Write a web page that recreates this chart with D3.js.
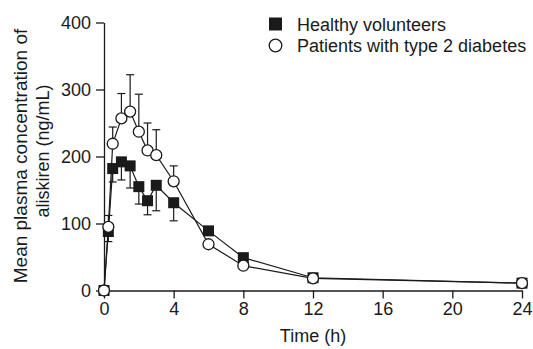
<!DOCTYPE html>
<html><head><meta charset="utf-8">
<script src="https://cdn.jsdelivr.net/npm/d3@7"></script>
<style>
body{margin:0;background:#fff;}
svg{display:block;font-family:"Liberation Sans",Arial,Helvetica,sans-serif;}
</style></head>
<body><svg id="c" width="533" height="349"></svg>
<script>
const times = [0, 0.25, 0.5, 1, 1.5, 2, 2.5, 3, 4, 6, 8, 12, 24];
const healthy = [0, 88, 182, 192, 186, 155, 134, 157, 131, 89, 49, 19, 11];
const healthyErr = [0, 15, 20, 27, 33, 26, 21, 38, 27, 0, 0, 0, 0];
const diabetes = [0, 95, 219, 257, 267, 237, 209, 202, 163, 69, 37, 18, 11];
const diabetesErr = [0, 17, 25, 37, 55, 56, 41, 38, 23, 0, 0, 0, 0];
const xTicks = [0, 4, 8, 12, 16, 20, 24];
const yTicks = [0, 100, 200, 300, 400];
const seriesNames = ["Healthy volunteers", "Patients with type 2 diabetes"];
const yTitle = ["Mean plasma concentration of", "aliskiren (ng/mL)"];
const xTitle = "Time (h)";

const svg = d3.select("#c");
const ink = "#1a1a1a";
const x = d3.scaleLinear().domain([0, 24]).range([104, 522]);
const y = d3.scaleLinear().domain([0, 400]).range([290.5, 22.5]);

const gx = svg.append("g").attr("transform", `translate(0,${y(0)})`)
  .call(d3.axisBottom(x).tickValues(xTicks).tickSize(8).tickSizeOuter(0).tickPadding(4));
const gy = svg.append("g").attr("transform", `translate(${x(0)},0)`)
  .call(d3.axisLeft(y).tickValues(yTicks).tickSize(8).tickSizeOuter(0).tickPadding(5));
[gx, gy].forEach(g => {
  g.selectAll("path,line").attr("stroke", ink).attr("stroke-width", 1.3);
  g.selectAll("text").attr("fill", ink).attr("font-size", 18).attr("font-family", "Liberation Sans, Arial, sans-serif");
});

svg.append("text").attr("x", (x(0) + x(24)) / 2).attr("y", 342).attr("text-anchor", "middle")
  .attr("font-size", 18).attr("fill", ink).text(xTitle);
const yTitleCenters = [156, 151];
const yTitleSizes = [19, 18];
yTitle.forEach((t, i) => {
  svg.append("text").attr("transform", `translate(${27 + i * 22},${yTitleCenters[i]}) rotate(-90)`)
    .attr("text-anchor", "middle").attr("font-size", yTitleSizes[i]).attr("fill", ink).text(t);
});

const hData = times.map((t, i) => ({t, v: healthy[i], e: healthyErr[i]}));
const dData = times.map((t, i) => ({t, v: diabetes[i], e: diabetesErr[i]}));
const line = d3.line().x(d => x(d.t)).y(d => y(d.v));

// error bars
function errBars(data, dir) {
  const g = svg.append("g").attr("stroke", ink).attr("stroke-width", 1.2);
  data.filter(d => d.e > 0).forEach(d => {
    const y1 = y(d.v), y2 = y(d.v + dir * d.e);
    g.append("line").attr("x1", x(d.t)).attr("x2", x(d.t)).attr("y1", y1).attr("y2", y2);
    g.append("line").attr("x1", x(d.t) - 4).attr("x2", x(d.t) + 4).attr("y1", y2).attr("y2", y2);
  });
}
errBars(dData, 1);
errBars(hData, -1);

svg.append("path").datum(hData).attr("d", line).attr("fill", "none").attr("stroke", ink).attr("stroke-width", 1.2);
svg.append("path").datum(dData).attr("d", line).attr("fill", "none").attr("stroke", ink).attr("stroke-width", 1.2);

const sq = 11;
svg.append("g").selectAll("rect").data(hData).join("rect")
  .attr("x", d => x(d.t) - sq / 2).attr("y", d => y(d.v) - sq / 2)
  .attr("width", sq).attr("height", sq).attr("fill", ink);
svg.append("g").selectAll("circle").data(dData).join("circle")
  .attr("cx", d => x(d.t)).attr("cy", d => y(d.v)).attr("r", 5.5)
  .attr("fill", "#fff").attr("stroke", ink).attr("stroke-width", 1.3);

// legend
const lg = svg.append("g");
lg.append("rect").attr("x", 269).attr("y", 17.5).attr("width", 13).attr("height", 13).attr("fill", ink);
lg.append("circle").attr("cx", 275.5).attr("cy", 45.5).attr("r", 6.3).attr("fill", "#fff").attr("stroke", ink).attr("stroke-width", 1.3);
seriesNames.forEach((n, i) => {
  lg.append("text").attr("x", 297).attr("y", 30.5 + i * 21.5).attr("font-size", 18).attr("fill", ink).text(n);
});
</script></body></html>
